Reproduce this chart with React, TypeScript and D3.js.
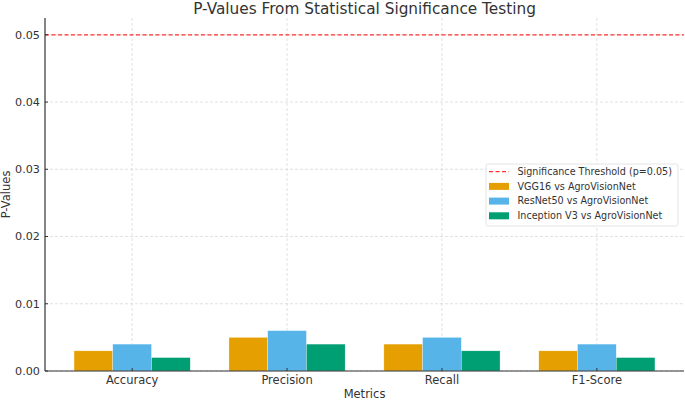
import React from "react";
import * as d3 from "d3";

const metrics = ["Accuracy", "Precision", "Recall", "F1-Score"];
const vgg16 = [0.003, 0.005, 0.004, 0.003];
const resnet50 = [0.004, 0.006, 0.005, 0.004];
const inceptionV3 = [0.002, 0.004, 0.003, 0.002];
const seriesNames = ["VGG16 vs AgroVisionNet", "ResNet50 vs AgroVisionNet", "Inception V3 vs AgroVisionNet"];
const yTicks = [0, 0.01, 0.02, 0.03, 0.04, 0.05];
const threshold = 0.05;

const colors = ["#E69F00", "#56B4E9", "#009E73"];
const font = "DejaVu Sans, sans-serif";
const textColor = "#333333";

export default function App() {
  const W = 685,
    H = 400;
  const margin = { left: 45, right: 1, top: 18, bottom: 29 };
  const barW = 0.25;

  const x = d3
    .scaleLinear()
    .domain([-0.5625, 3.5625])
    .range([margin.left, W - margin.right]);
  const y = d3
    .scaleLinear()
    .domain([0, 0.0525])
    .range([H - margin.bottom, margin.top]);

  const series = [vgg16, resnet50, inceptionV3];
  const x0 = margin.left,
    x1 = W - margin.right,
    yb = y(0),
    yt = y(0.0525);

  const legendItems = ["Significance Threshold (p=0.05)", ...seriesNames];

  return (
    <svg width={W} height={H} style={{ position: "absolute", left: 0, top: 0 }} fontFamily={font}>
      <rect width={W} height={H} fill="white" />
      {/* grid */}
      {yTicks.map((t) => (
        <line key={"gy" + t} x1={x0} x2={x1} y1={y(t)} y2={y(t)} stroke="#d9d9d9" strokeWidth={0.8} strokeDasharray="3,2" />
      ))}
      {metrics.map((m, i) => (
        <line key={"gx" + m} x1={x(i)} x2={x(i)} y1={yb} y2={yt} stroke="#d9d9d9" strokeWidth={0.8} strokeDasharray="3,2" />
      ))}
      {/* threshold */}
      <line x1={x0} x2={x1} y1={y(threshold)} y2={y(threshold)} stroke="#ff3030" strokeWidth={1.2} strokeDasharray="4,2.5" />
      {/* bars */}
      {series.map((vals, s) =>
        vals.map((v, i) => {
          const left = x(i + (s - 1) * barW - barW / 2);
          const right = x(i + (s - 1) * barW + barW / 2);
          return (
            <rect key={s + "-" + i} x={left} width={right - left} y={y(v)} height={yb - y(v)} fill={colors[s]} stroke="white" strokeWidth={0.5} strokeOpacity={0.6} />
          );
        })
      )}
      {/* spines */}
      <line x1={x0} x2={x0} y1={yt} y2={yb} stroke={textColor} strokeWidth={1.2} />
      <line x1={x0} x2={x1} y1={yb} y2={yb} stroke={textColor} strokeWidth={1.2} />
      {/* y ticks */}
      {yTicks.map((t) => (
        <g key={"ty" + t}>
          <line x1={x0} x2={x0 + 3} y1={y(t)} y2={y(t)} stroke={textColor} strokeWidth={1} />
          <text x={x0 - 5} y={y(t)} dy="0.35em" textAnchor="end" fontSize={11.2} fill={textColor}>
            {d3.format(".2f")(t)}
          </text>
        </g>
      ))}
      {/* x ticks */}
      {metrics.map((m, i) => (
        <g key={"tx" + m}>
          <line x1={x(i)} x2={x(i)} y1={yb} y2={yb - 3} stroke={textColor} strokeWidth={1} />
          <text x={x(i)} y={yb + 13} textAnchor="middle" fontSize={11.5} fill={textColor}>
            {m}
          </text>
        </g>
      ))}
      {/* labels */}
      <text x={(x0 + x1) / 2} y={13.5} textAnchor="middle" fontSize={15.3} fill={textColor}>
        P-Values From Statistical Significance Testing
      </text>
      <text x={(x0 + x1) / 2} y={397.5} textAnchor="middle" fontSize={11.5} fill={textColor}>
        Metrics
      </text>
      <text transform={`translate(9.5,${(yt + yb) / 2}) rotate(-90)`} textAnchor="middle" fontSize={11.5} fill={textColor}>
        P-Values
      </text>
      {/* legend */}
      <g>
        <rect x={486} y={164} width={192} height={62} rx={2} fill="white" fillOpacity={0.85} stroke="#dddddd" strokeWidth={0.8} />
        {legendItems.map((name, k) => {
          const cy = 171.7 + k * 14.7;
          return (
            <g key={name}>
              {k === 0 ? (
                <line x1={489} x2={509} y1={cy} y2={cy} stroke="#ff3030" strokeWidth={1.2} strokeDasharray="4,2.5" />
              ) : (
                <rect x={489} y={cy - 3.5} width={20} height={7} fill={colors[k - 1]} />
              )}
              <text x={517.5} y={cy} dy="0.35em" fontSize={9.6} fill={textColor}>
                {name}
              </text>
            </g>
          );
        })}
      </g>
    </svg>
  );
}
